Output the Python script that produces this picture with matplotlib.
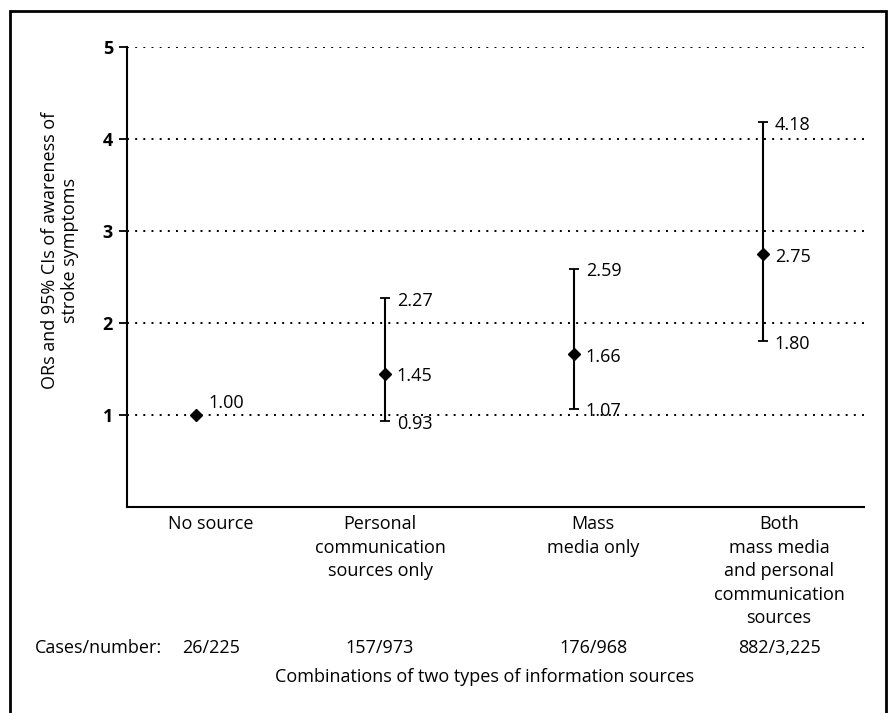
import numpy as np
import matplotlib.pyplot as plt
from matplotlib.patches import Rectangle

plt.rcParams['font.family'] = ['Open Sans', 'DejaVu Sans']

categories = ["No source", "Personal\ncommunication\nsources only", "Mass\nmedia only",
              "Both\nmass media\nand personal\ncommunication\nsources"]
cases = ["26/225", "157/973", "176/968", "882/3,225"]
odds = [1.00, 1.45, 1.66, 2.75]
ci_low = [None, 0.93, 1.07, 1.80]
ci_high = [None, 2.27, 2.59, 4.18]

# horizontal shift (pixels) of the text under each group, as laid out in the original
label_shift = [15, -5, 19, 16]
FS = 13


def main():
	fig = plt.figure(figsize=(8.96, 7.13), dpi=100)
	ax = fig.add_axes([127 / 896, 1 - 507 / 713, (864 - 127) / 896, (507 - 47) / 713])

	x = np.arange(len(categories))
	ax.set_xlim(-0.365, 3.534)
	ax.set_ylim(0, 5)

	for v in range(1, 6):
		ax.axhline(v, color='black', lw=1.4, linestyle=(0, (1, 3.2)), zorder=1)

	for i in range(len(categories)):
		if ci_low[i] is not None:
			ax.errorbar(x[i], odds[i], yerr=[[odds[i] - ci_low[i]], [ci_high[i] - odds[i]]],
				fmt='none', ecolor='black', elinewidth=1.5, capsize=3.6, capthick=1.3, zorder=2)
		ax.plot(x[i], odds[i], marker='D', color='black', markersize=6.5, zorder=3)

	# value labels
	ax.annotate("%.2f" % odds[0], (x[0], odds[0]), xytext=(9, 9), textcoords='offset points',
		va='center', ha='left', fontsize=FS)
	for i in range(1, len(categories)):
		for val in (ci_high[i], odds[i], ci_low[i]):
			ax.annotate("%.2f" % val, (x[i], val), xytext=(8.5, -2), textcoords='offset points',
				va='center', ha='left', fontsize=FS)

	ax.spines['top'].set_visible(False)
	ax.spines['right'].set_visible(False)
	ax.spines['left'].set_linewidth(1.5)
	ax.spines['bottom'].set_linewidth(1.5)
	ax.set_yticks([1, 2, 3, 4, 5])
	ax.set_yticklabels(["1", "2", "3", "4", "5"], fontsize=FS, fontweight='bold')
	ax.tick_params(axis='y', length=6, width=1.3, pad=4)
	ax.set_xticks([])

	# group labels and cases under the axis
	for i in range(len(categories)):
		ax.annotate(categories[i], (x[i], 0), xytext=(label_shift[i], -8), textcoords='offset pixels',
			fontsize=FS, va='top', ha='center', linespacing=1.4, annotation_clip=False)
		ax.annotate(cases[i], (x[i], 0), xytext=(label_shift[i], -(648 - 507)),
			textcoords='offset pixels', fontsize=FS, va='center', ha='center',
			annotation_clip=False)

	fig.text(35 / 896, 1 - 648 / 713, "Cases/number:", fontsize=FS, va='center', ha='left')

	fig.text(485 / 896, 1 - 677 / 713, "Combinations of two types of information sources",
		fontsize=FS, va='center', ha='center')
	fig.text(60 / 896, 1 - 250 / 713, "ORs and 95% CIs of awareness of\nstroke symptoms",
		fontsize=FS, rotation=90, va='center', ha='center', linespacing=1.1)

	# outer frame
	fig.patches.append(Rectangle((10 / 896, -0.05), (886 - 10) / 896, 1.05 - 11 / 713,
		transform=fig.transFigure, fill=False, edgecolor='black', lw=2))

	fig.savefig("out.png", dpi=100)


if __name__ == "__main__":
	main()
